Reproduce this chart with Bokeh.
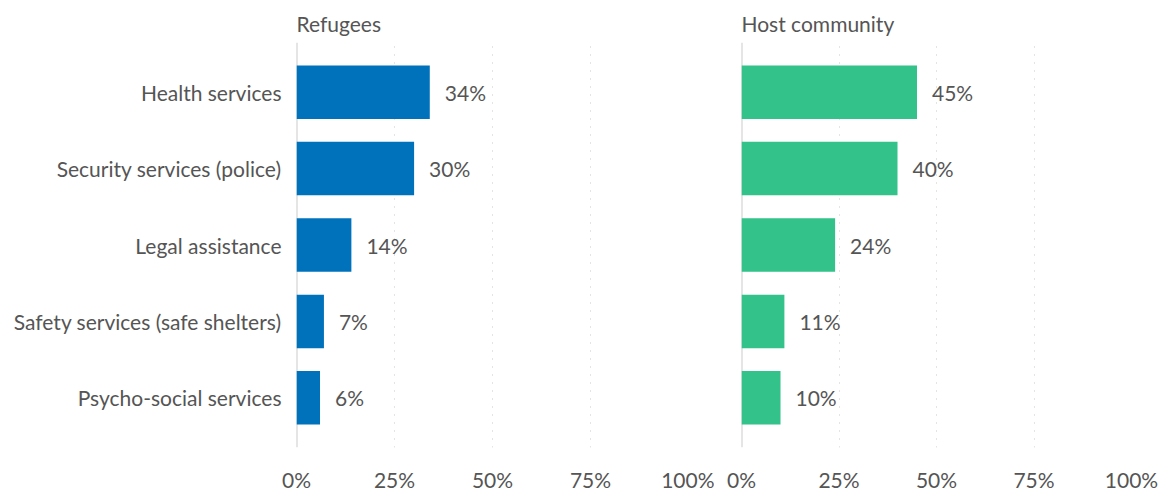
from bokeh.plotting import figure
from bokeh.models import FactorRange, Range1d, Span, FixedTicker, ColumnDataSource
from bokeh.layouts import row
from bokeh.core.properties import value
from bokeh.embed import file_html
from bokeh.resources import INLINE

categories = ["Health services", "Security services (police)", "Legal assistance",
              "Safety services (safe shelters)", "Psycho-social services"]
refugees = [34, 30, 14, 7, 6]
host = [45, 40, 24, 11, 10]
panel_titles = ["Refugees", "Host community"]
tick_values = [0, 25, 50, 75, 100]
tick_labels = ["0%", "25%", "50%", "75%", "100%"]

FONT = "Lato"
TXT = "#555555"
FS = "21px"
colors = ["#0072BC", "#32C28A"]


def make_panel(vals, title, color, frame_w, border_left, border_right, show_y):
    y_range = FactorRange(factors=list(reversed(categories)),
                          range_padding=0.15, range_padding_units="absolute")
    p = figure(frame_width=frame_w, frame_height=405, y_range=y_range,
               x_range=Range1d(0, 100),
               output_backend="svg", toolbar_location=None,
               min_border_left=border_left, min_border_right=border_right,
               min_border_top=42, min_border_bottom=42)
    p.outline_line_color = None
    p.title.text = title
    p.title.align = "left"
    p.title.text_font = FONT
    p.title.text_font_size = FS
    p.title.text_font_style = "normal"
    p.title.text_color = TXT
    p.title.standoff = 14
    src = ColumnDataSource(dict(cat=categories, val=vals,
                                lab=[f"{v}%" for v in vals]))
    p.add_layout(Span(location=0, dimension="height", line_color="#cccccc",
                      line_width=2, level="underlay"))
    p.hbar(y="cat", right="val", left=0, height=0.70, source=src,
           fill_color=color, line_color=None)
    p.text(x="val", y="cat", text="lab", source=src, x_offset=15,
           text_baseline="middle", text_align="left", text_font=value(FONT),
           text_font_size=FS, text_color=TXT)
    p.xaxis.ticker = FixedTicker(ticks=tick_values)
    p.xaxis.major_label_overrides = {t: l for t, l in zip(tick_values, tick_labels)}
    p.xaxis.axis_line_color = None
    p.xaxis.major_tick_line_color = None
    p.xaxis.minor_tick_line_color = None
    p.xaxis.major_label_text_font = FONT
    p.xaxis.major_label_text_font_size = FS
    p.xaxis.major_label_text_color = TXT
    p.xaxis.major_label_standoff = 13
    p.xgrid.ticker = FixedTicker(ticks=tick_values[1:])
    p.xgrid.grid_line_color = "#c8c8c8"
    p.xgrid.grid_line_dash = "1 7"
    p.xgrid.grid_line_width = 1
    p.ygrid.grid_line_color = None
    if show_y:
        p.yaxis.axis_line_color = None
        p.yaxis.major_tick_line_color = None
        p.yaxis.minor_tick_line_color = None
        p.yaxis.major_label_text_font = FONT
        p.yaxis.major_label_text_font_size = FS
        p.yaxis.major_label_text_color = TXT
        p.yaxis.major_label_standoff = 9
    else:
        p.yaxis.visible = False
    return p


p1 = make_panel(refugees, panel_titles[0], colors[0], 392, 296, 26, True)
p2 = make_panel(host, panel_titles[1], colors[1], 390, 27, 30, False)
layout = row(p1, p2)

open("out.html", "w").write(file_html(layout, INLINE))
